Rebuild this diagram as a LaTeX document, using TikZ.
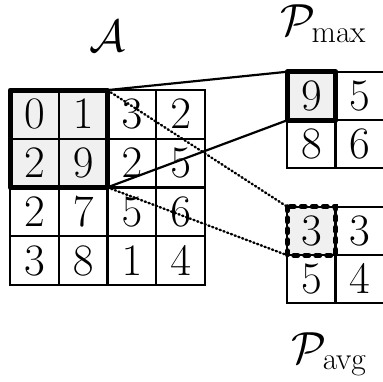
\RequirePackage{fix-cm}
\documentclass[tikz,border=0pt]{standalone}
\usetikzlibrary{calc}
\begin{document}
\begin{tikzpicture}[x=1pt,y=-1pt,
  cell/.style={draw,line width=2pt,minimum size=48.5pt,inner sep=0pt,outer sep=0pt,
    font=\fontsize{45}{50}\selectfont},
  hl/.style={fill=black!6},
  thickbox/.style={line width=5pt,line join=round},
  dashbox/.style={line width=5pt,dash pattern=on 4pt off 7pt,line cap=round},
  conn/.style={line width=2.2pt},
  dotconn/.style={line width=2.4pt,dash pattern=on 1.2pt off 2.8pt,line cap=round},
  lbl/.style={font=\fontsize{45}{50}\selectfont,inner sep=0pt}]
\useasboundingbox (0,0) rectangle (383,382);
% matrix A
\def\cs{48.75}
\foreach \r/\c/\v in {1/1/0,1/2/1,1/3/3,1/4/2,2/1/2,2/2/9,2/3/2,2/4/5,3/1/2,3/2/7,3/3/5,3/4/6,4/1/3,4/2/8,4/3/1,4/4/4}{
  \pgfmathsetmacro\xx{10+\cs*(\c-0.5)}
  \pgfmathsetmacro\yy{90+\cs*(\r-0.5)}
  \ifnum\r<3 \ifnum\c<3
    \node[cell,hl] (a-\r-\c) at (\xx,\yy) {$\v$};
  \else
    \node[cell] (a-\r-\c) at (\xx,\yy) {$\v$};
  \fi\else
    \node[cell] (a-\r-\c) at (\xx,\yy) {$\v$};
  \fi
}
\draw[thickbox] (a-1-1.north west) rectangle (a-2-2.south east);
% P max
\node[cell,hl] (m-1-1) at (311.5,96) {$9$};
\node[cell] (m-1-2) at (359.5,96) {$5$};
\node[cell] (m-2-1) at (311.5,144) {$8$};
\node[cell] (m-2-2) at (359.5,144) {$6$};
\draw[thickbox] (m-1-1.north west) rectangle (m-1-1.south east);
% P avg
\node[cell,hl] (v-1-1) at (311.5,231) {$3$};
\node[cell] (v-1-2) at (359.5,231) {$3$};
\node[cell] (v-2-1) at (311.5,279) {$5$};
\node[cell] (v-2-2) at (359.5,279) {$4$};
\draw[dashbox] (v-1-1.north west) rectangle (v-1-1.south east);
% connectors
\draw[conn] (a-1-2.north east) -- (m-1-1.north west);
\draw[conn] (a-2-2.south east) -- (m-1-1.south west);
\draw[dotconn] (a-1-2.north east) -- (v-1-1.north west);
\draw[dotconn] (a-2-2.south east) -- (v-1-1.south west);
% labels
\node[lbl,anchor=base] (la) at (107,52) {$\mathcal{A}$};
\node[lbl,anchor=base west] (lm) at (280,36) {$\mathcal{P}_{\max}$};
\node[lbl,anchor=base west] (lv) at (291,363) {$\mathcal{P}_{\mathrm{avg}}$};
\end{tikzpicture}
\end{document}
